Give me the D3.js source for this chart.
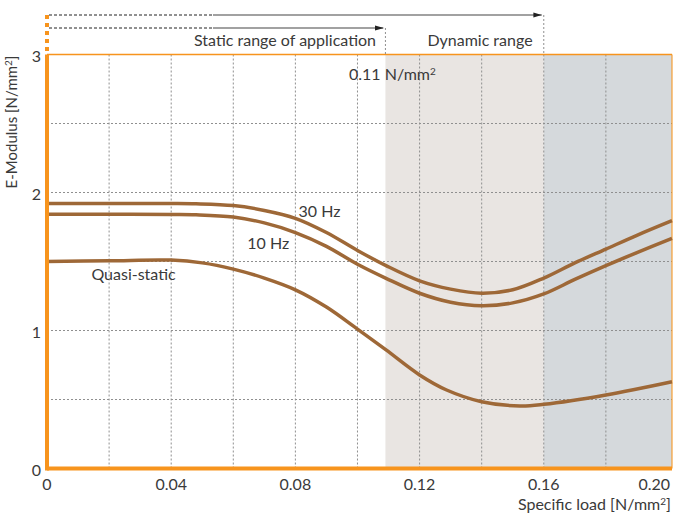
<!DOCTYPE html>
<html>
<head>
<meta charset="utf-8">
<script src="https://cdn.jsdelivr.net/npm/d3@7"></script>
<style>
  body { margin: 0; background: #fff; }
  text { font-family: Lato, "Open Sans", sans-serif; fill: #3a3a3a; }
</style>
</head>
<body>
<div id="mount"></div>
<script>
var WIDTH = 673, HEIGHT = 514;

// data
var xTicks = [0, 0.04, 0.08, 0.12, 0.16, 0.20];
var yTicks = [0, 1, 2, 3];
var xGrid = [0.02, 0.04, 0.06, 0.08, 0.10, 0.12, 0.14, 0.16, 0.18];
var yGrid = [0.5, 1, 1.5, 2, 2.5];

var staticEnd = 0.109;
var dynamicSplit = 0.16;
var xMax = 0.2013;

var hz30 = [[0,1.92],[0.02,1.92],[0.04,1.92],[0.048,1.918],[0.06,1.905],[0.07,1.87],[0.08,1.813],
  [0.09,1.71],[0.1,1.58],[0.1092,1.47],[0.12,1.36],[0.13,1.30],[0.14,1.27],[0.15,1.295],
  [0.16,1.38],[0.17,1.49],[0.18,1.59],[0.19,1.69],[0.2013,1.796]];
var hz10 = [[0,1.842],[0.02,1.842],[0.04,1.84],[0.048,1.838],[0.06,1.822],[0.07,1.78],[0.08,1.71],
  [0.09,1.61],[0.1,1.48],[0.1092,1.378],[0.12,1.27],[0.13,1.205],[0.14,1.18],[0.15,1.20],
  [0.16,1.265],[0.17,1.37],[0.18,1.47],[0.19,1.565],[0.2013,1.668]];
var quasi = [[0,1.50],[0.02,1.505],[0.04,1.51],[0.05,1.49],[0.06,1.445],[0.07,1.38],[0.08,1.295],
  [0.09,1.17],[0.1,1.01],[0.1092,0.859],[0.12,0.678],[0.1287,0.569],[0.14,0.484],[0.1523,0.453],
  [0.16,0.465],[0.18,0.533],[0.2013,0.629]];

var curves = [
  { name: '30 Hz', values: hz30, at: [0.081, 1.82] },
  { name: '10 Hz', values: hz10, at: [0.0645, 1.59] },
  { name: 'Quasi-static', values: quasi, at: [0.0143, 1.365] }
];

var ORANGE = '#f7941d';
var BROWN = '#9e6837';

var x = d3.scaleLinear().domain([0, xMax]).range([47, 672]);
var y = d3.scaleLinear().domain([0, 3]).range([468.5, 54.5]);

var $svg = d3.select('#mount')
  .append('svg')
  .attr('width', WIDTH)
  .attr('height', HEIGHT);

// shaded ranges
$svg.append('rect')
  .attr('x', x(staticEnd)).attr('y', y(3))
  .attr('width', x(dynamicSplit) - x(staticEnd))
  .attr('height', y(0) - y(3))
  .attr('fill', '#e9e5e2');
$svg.append('rect')
  .attr('x', x(dynamicSplit)).attr('y', y(3))
  .attr('width', x(xMax) - x(dynamicSplit))
  .attr('height', y(0) - y(3))
  .attr('fill', '#d5d9dc');

// grid
$svg.selectAll('.vgrid')
  .data(xGrid)
  .enter()
  .append('line')
  .attr('x1', function (d) { return x(d); })
  .attr('x2', function (d) { return x(d); })
  .attr('y1', y(3)).attr('y2', y(0))
  .attr('stroke', '#8f8f8f').attr('stroke-width', 1)
  .attr('stroke-dasharray', '2,2');
$svg.selectAll('.hgrid')
  .data(yGrid)
  .enter()
  .append('line')
  .attr('x1', x(0)).attr('x2', x(xMax))
  .attr('y1', function (d) { return y(d); })
  .attr('y2', function (d) { return y(d); })
  .attr('stroke', '#8f8f8f').attr('stroke-width', 1)
  .attr('stroke-dasharray', '2,2');

// frame
$svg.append('line')
  .attr('x1', x(0)).attr('x2', x(xMax)).attr('y1', y(3)).attr('y2', y(3))
  .attr('stroke', ORANGE).attr('stroke-width', 1.5);
$svg.append('line')
  .attr('x1', x(xMax)).attr('x2', x(xMax)).attr('y1', y(3)).attr('y2', y(0))
  .attr('stroke', ORANGE).attr('stroke-width', 1.5).attr('opacity', 0.7);

// curves
var line = d3.line()
  .x(function (d) { return x(d[0]); })
  .y(function (d) { return y(d[1]); })
  .curve(d3.curveCatmullRom.alpha(0.5));

$svg.selectAll('.curve')
  .data(curves)
  .enter()
  .append('path')
  .attr('d', function (d) { return line(d.values); })
  .attr('fill', 'none')
  .attr('stroke', BROWN)
  .attr('stroke-width', 3.5);

$svg.selectAll('.clabel')
  .data(curves)
  .enter()
  .append('text')
  .attr('x', function (d) { return x(d.at[0]); })
  .attr('y', function (d) { return y(d.at[1]); })
  .attr('font-size', 16)
  .text(function (d) { return d.name; });

// axes lines (thick orange)
$svg.append('line')
  .attr('x1', x(0)).attr('x2', x(xMax)).attr('y1', y(0)).attr('y2', y(0))
  .attr('stroke', ORANGE).attr('stroke-width', 4);
$svg.append('line')
  .attr('x1', x(0)).attr('x2', x(0)).attr('y1', y(3)).attr('y2', y(0) + 2)
  .attr('stroke', ORANGE).attr('stroke-width', 4);
$svg.append('line')
  .attr('x1', x(0)).attr('x2', x(0)).attr('y1', 15).attr('y2', y(3))
  .attr('stroke', ORANGE).attr('stroke-width', 4)
  .attr('stroke-dasharray', '4,4');

// tick labels
$svg.selectAll('.xt')
  .data(xTicks)
  .enter()
  .append('text')
  .attr('x', function (d) { return d === 0.20 ? x(xMax) - 2 : x(d); })
  .attr('y', 490)
  .attr('font-size', 16)
  .attr('text-anchor', function (d) { return d === 0.20 ? 'end' : 'middle'; })
  .text(function (d) { return d === 0 ? '0' : d.toFixed(2); });

$svg.selectAll('.yt')
  .data(yTicks)
  .enter()
  .append('text')
  .attr('x', 41)
  .attr('y', function (d) { return y(d) + 7; })
  .attr('font-size', 16)
  .attr('text-anchor', 'end')
  .text(function (d) { return d; });

// axis titles
$svg.append('text')
  .attr('transform', 'translate(17,122) rotate(-90)')
  .attr('font-size', 15)
  .attr('text-anchor', 'middle')
  .html('E-Modulus [N/mm<tspan dy="-5" font-size="10">2</tspan><tspan dy="5">]</tspan>');

$svg.append('text')
  .attr('x', 671).attr('y', 510)
  .attr('font-size', 16)
  .attr('text-anchor', 'end')
  .html('Specific load [N/mm<tspan dy="-5" font-size="10">2</tspan><tspan dy="5">]</tspan>');

// range annotations
var defs = $svg.append('defs');
defs.append('marker')
  .attr('id', 'arr')
  .attr('viewBox', '0 0 10 10')
  .attr('refX', 10).attr('refY', 5)
  .attr('markerWidth', 7).attr('markerHeight', 7)
  .attr('orient', 'auto')
  .append('path')
  .attr('d', 'M0,2 L10,5 L0,8 Z')
  .attr('fill', '#222');

var ranges = [
  { top: 15, end: dynamicSplit },
  { top: 28, end: staticEnd }
];
ranges.forEach(function (r) {
  $svg.append('line')
    .attr('x1', x(0) + 2).attr('x2', 213).attr('y1', r.top).attr('y2', r.top)
    .attr('stroke', '#222').attr('stroke-width', 1)
    .attr('stroke-dasharray', '3,2');
  $svg.append('line')
    .attr('x1', 213).attr('x2', x(r.end) - 2).attr('y1', r.top).attr('y2', r.top)
    .attr('stroke', '#444').attr('stroke-width', 1.2)
    .attr('marker-end', 'url(#arr)');
  $svg.append('line')
    .attr('x1', x(r.end)).attr('x2', x(r.end)).attr('y1', r.top).attr('y2', y(3))
    .attr('stroke', '#8f8f8f').attr('stroke-width', 1)
    .attr('stroke-dasharray', '2,2');
});

$svg.append('text')
  .attr('x', 376).attr('y', 46)
  .attr('font-size', 16)
  .attr('text-anchor', 'end')
  .text('Static range of application');

$svg.append('text')
  .attr('x', 480).attr('y', 46)
  .attr('font-size', 16)
  .attr('text-anchor', 'middle')
  .text('Dynamic range');

$svg.append('text')
  .attr('x', 349).attr('y', 80)
  .attr('font-size', 16)
  .html('0.11 N/mm<tspan dy="-5" font-size="10">2</tspan>');
</script>
</body>
</html>
